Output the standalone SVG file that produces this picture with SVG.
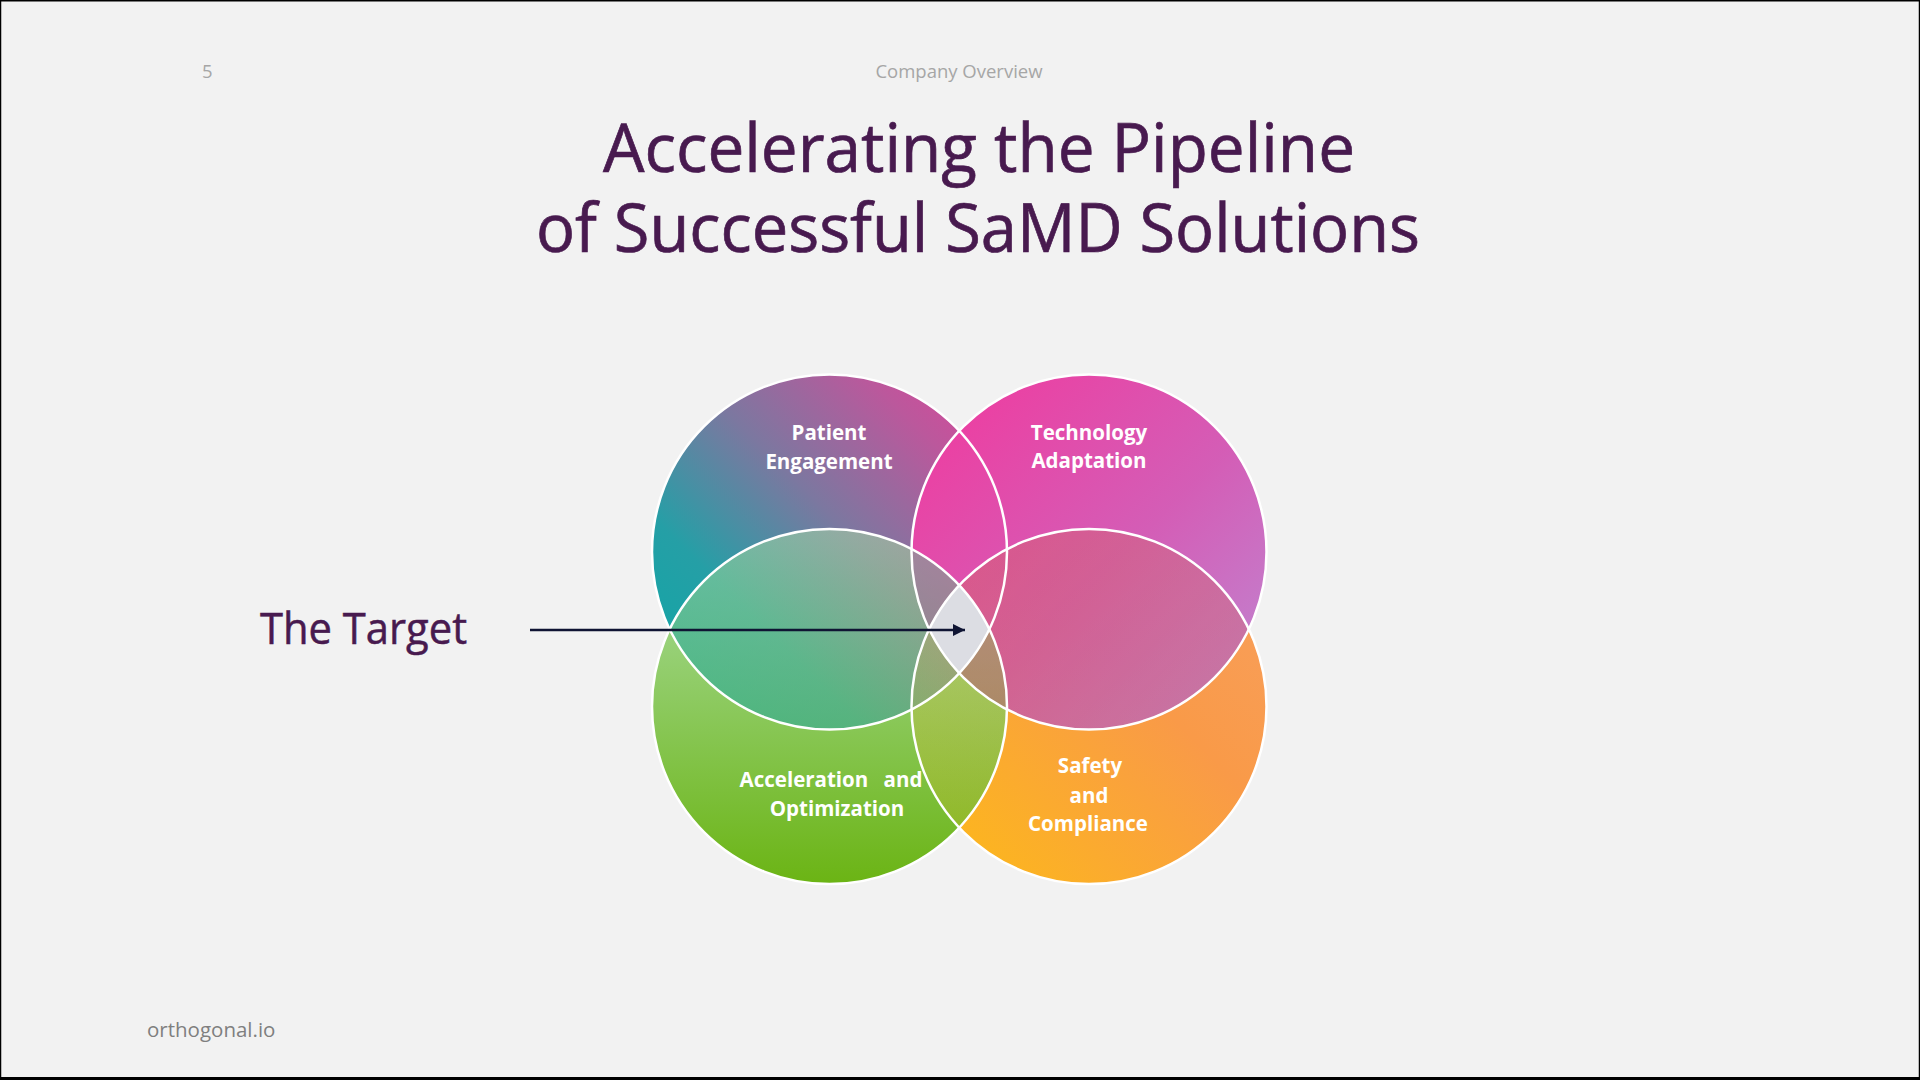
<svg xmlns="http://www.w3.org/2000/svg" xmlns:xlink="http://www.w3.org/1999/xlink" width="1920" height="1080" viewBox="0 0 1920 1080">
  <style>
    .hdr { font-family: "Open Sans", "Liberation Sans", sans-serif; font-size: 18.5px; fill: #a6a6a6; }
    .title { font-family: "Open Sans", "Liberation Sans", sans-serif; font-size: 68px; fill: #481a4f; stroke: #481a4f; stroke-width: 0.7; text-anchor: middle; }
    .target { font-family: "Open Sans", "Liberation Sans", sans-serif; font-size: 43px; fill: #481a4f; stroke: #481a4f; stroke-width: 0.5; }
    .foot { font-family: "Open Sans", "Liberation Sans", sans-serif; font-size: 20.5px; fill: #7f7f7f; }
    .lbl { font-family: "Open Sans", "Liberation Sans", sans-serif; font-size: 20.5px; font-weight: bold; fill: #ffffff; text-anchor: middle; }
    .ring { fill: none; stroke: #ffffff; stroke-width: 2.5; }
    .conn { stroke: #0f1433; stroke-width: 2.5; fill: none; }
  </style>
  <defs>
    <linearGradient id="gTL" x1="0" y1="1" x2="1" y2="0">
      <stop offset="0" stop-color="#0aa9a6"/>
      <stop offset="0.3" stop-color="#259fa6"/>
      <stop offset="0.55" stop-color="#7b78a0"/>
      <stop offset="0.8" stop-color="#bb589c"/>
      <stop offset="1" stop-color="#e2429a"/>
    </linearGradient>
    <linearGradient id="gTR" x1="0" y1="0" x2="1" y2="1">
      <stop offset="0" stop-color="#f2389d"/>
      <stop offset="0.55" stop-color="#d45db6"/>
      <stop offset="1" stop-color="#bd8ad4"/>
    </linearGradient>
    <linearGradient id="gBL" x1="0" y1="0" x2="0" y2="1">
      <stop offset="0" stop-color="#acdea6"/>
      <stop offset="1" stop-color="#6bb414"/>
    </linearGradient>
    <linearGradient id="gBR" x1="0" y1="1" x2="1" y2="0">
      <stop offset="0" stop-color="#fdbc15"/>
      <stop offset="0.6" stop-color="#f99a48"/>
      <stop offset="1" stop-color="#f8a060"/>
    </linearGradient>
    <circle id="cTL" cx="829.5" cy="552" r="177.5"/>
    <circle id="cTR" cx="1089" cy="552" r="177.5"/>
    <circle id="cBL" cx="829.5" cy="706.5" r="177.5"/>
    <circle id="cBR" cx="1089" cy="706.5" r="177.5"/>
    <clipPath id="clipBL"><circle cx="829.5" cy="706.5" r="177.5"/></clipPath>
    <clipPath id="clipBR"><circle cx="1089" cy="706.5" r="177.5"/></clipPath>
    <marker id="arrow" viewBox="0 0 12 12" refX="12" refY="6" markerWidth="12" markerHeight="12" markerUnits="userSpaceOnUse" orient="auto">
      <path d="M0,0 L12,6 L0,12 Z" fill="#0f1433"/>
    </marker>
  </defs>

  <rect x="0" y="0" width="1920" height="1080" fill="#f2f2f2"/>
  <rect x="0.5" y="0.75" width="1919" height="1077" fill="none" stroke="#000000" stroke-width="1.5"/>
  <rect x="0" y="1077" width="1920" height="3" fill="#000000"/>

  <text class="hdr" x="202" y="78">5</text>
  <text class="hdr" x="959" y="78" text-anchor="middle">Company Overview</text>

  <text class="title" x="979" y="172" textLength="752" lengthAdjust="spacingAndGlyphs">Accelerating the Pipeline</text>
  <text class="title" x="978" y="252" textLength="884" lengthAdjust="spacingAndGlyphs">of Successful SaMD Solutions</text>

  <g id="fills">
    <use xlink:href="#cBR" fill="url(#gBR)"/>
    <use xlink:href="#cTL" fill="url(#gTL)"/>
    <use xlink:href="#cTR" fill="url(#gTR)"/>
    <use xlink:href="#cBL" fill="url(#gBL)"/>
    <g clip-path="url(#clipBL)">
      <use xlink:href="#cTL" fill="url(#gTL)" opacity="0.5"/>
      <use xlink:href="#cTR" fill="#b04a9e" opacity="0.35"/>
    </g>
    <g clip-path="url(#clipBR)">
      <use xlink:href="#cTR" fill="#a02878" opacity="0.22"/>
    </g>
    <use xlink:href="#cBR" fill="url(#gBR)" opacity="0.2"/>
    <path id="target-zone" d="M959.25,585.4 A177.5,177.5 0 0 1 989.3,629.25 A177.5,177.5 0 0 1 959.25,673.1 A177.5,177.5 0 0 1 929.2,629.25 A177.5,177.5 0 0 1 959.25,585.4 Z" fill="#dcdde3"/>
  </g>

  <g id="node-patient-engagement">
    <use xlink:href="#cTL" class="ring"/>
    <text class="lbl" x="829" y="440">Patient</text>
    <text class="lbl" x="829" y="469">Engagement</text>
  </g>
  <g id="node-technology-adaptation">
    <use xlink:href="#cTR" class="ring"/>
    <text class="lbl" x="1089" y="440">Technology</text>
    <text class="lbl" x="1089" y="468">Adaptation</text>
  </g>
  <g id="node-acceleration-optimization">
    <use xlink:href="#cBL" class="ring"/>
    <text class="lbl" x="831" y="787" word-spacing="10">Acceleration and</text>
    <text class="lbl" x="837" y="816">Optimization</text>
  </g>
  <g id="node-safety-compliance">
    <use xlink:href="#cBR" class="ring"/>
    <text class="lbl" x="1090" y="773">Safety</text>
    <text class="lbl" x="1089" y="803">and</text>
    <text class="lbl" x="1088" y="831">Compliance</text>
  </g>

  <g id="node-the-target">
    <text class="target" x="260" y="644" textLength="207" lengthAdjust="spacingAndGlyphs">The Target</text>
  </g>

  <g id="connectors">
    <line class="conn" x1="530" y1="630" x2="965" y2="630" marker-end="url(#arrow)"/>
  </g>

  <text class="foot" x="147" y="1037">orthogonal.io</text>
</svg>
